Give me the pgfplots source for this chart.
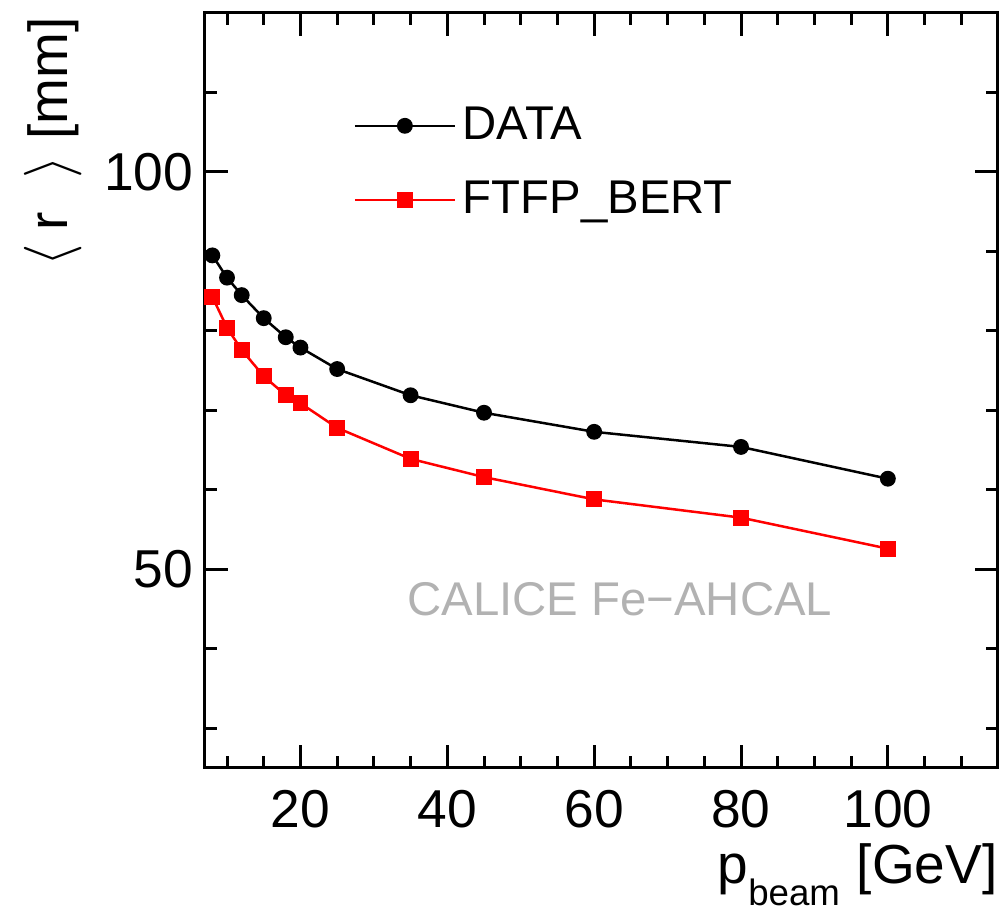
\documentclass[border=0pt]{standalone}
\usepackage{pgfplots}
\pgfplotsset{compat=1.18}
\usepackage{fontspec}
\setmainfont{Liberation Sans}
\begin{document}
\begin{tikzpicture}
\useasboundingbox (-61.5pt,-42.6pt) rectangle (238.8pt,230.4pt);
\begin{axis}[
  at={(0,0)}, anchor=south west,
  scale only axis,
  width=237.9pt, height=226.5pt,
  xmin=7, xmax=115, ymin=25, ymax=120,
  xtick={20,40,60,80,100},
  minor xtick={10,15,25,30,35,45,50,55,65,70,75,85,90,95,105,110},
  ytick={50,100},
  minor ytick={30,40,60,70,80,90,110},
  tick align=inside,
  xtick pos=both, ytick pos=both,
  major tick length=6.9pt,
  minor tick length=3.6pt,
  axis line style={line width=0.9pt},
  every tick/.style={black, line width=0.9pt},
  /pgf/number format/assume math mode=true,
  tick label style={font=\fontsize{16}{19}\selectfont},
  xticklabel style={yshift=-3pt},
  xlabel={p\raisebox{-6.6pt}{\fontsize{11}{13}\selectfont beam}\hspace{5pt}[GeV]},
  xlabel style={at={(axis description cs:1,0)}, anchor=north east, inner sep=0pt, yshift=-22.5pt, font=\fontsize{16.5}{19}\selectfont},
  ylabel={$\langle$\hspace{4pt}r\hspace{10pt}$\rangle$\hspace{5pt}[mm]},
  ylabel style={at={(axis description cs:-0.155,0.995)}, anchor=south east, inner sep=0pt, font=\fontsize{16.5}{19}\selectfont},
  legend style={draw=none, fill=none, at={(axis description cs:0.174,0.894)}, anchor=north west,
    font=\fontsize{14.2}{17}\selectfont, row sep=7pt},
  legend cell align=left,
  legend image code/.code={\draw[mark repeat=2,mark phase=2,#1] plot coordinates {(0pt,0pt) (15pt,0pt) (30pt,0pt)};},
]
\addplot[black, line width=0.75pt, mark=*, mark size=2pt, mark options={solid, fill=black}] coordinates {
(8,89.5) (10,86.7) (12,84.5) (15,81.6) (18,79.2) (20,77.9) (25,75.2) (35,71.9) (45,69.7) (60,67.3) (80,65.4) (100,61.4)};
\addlegendentry{DATA}
\addplot[red, line width=0.75pt, mark=square*, mark size=2pt, mark options={solid, fill=red}] coordinates {
(8,84.3) (10,80.4) (12,77.6) (15,74.3) (18,71.9) (20,70.9) (25,67.8) (35,63.9) (45,61.6) (60,58.8) (80,56.5) (100,52.6)};
\addlegendentry{FTFP\_BERT}
\node[text=black!30, font=\fontsize{14.2}{17}\selectfont] at (axis cs:63.5,46.2) {CALICE Fe−AHCAL};
\end{axis}
\end{tikzpicture}
\end{document}
